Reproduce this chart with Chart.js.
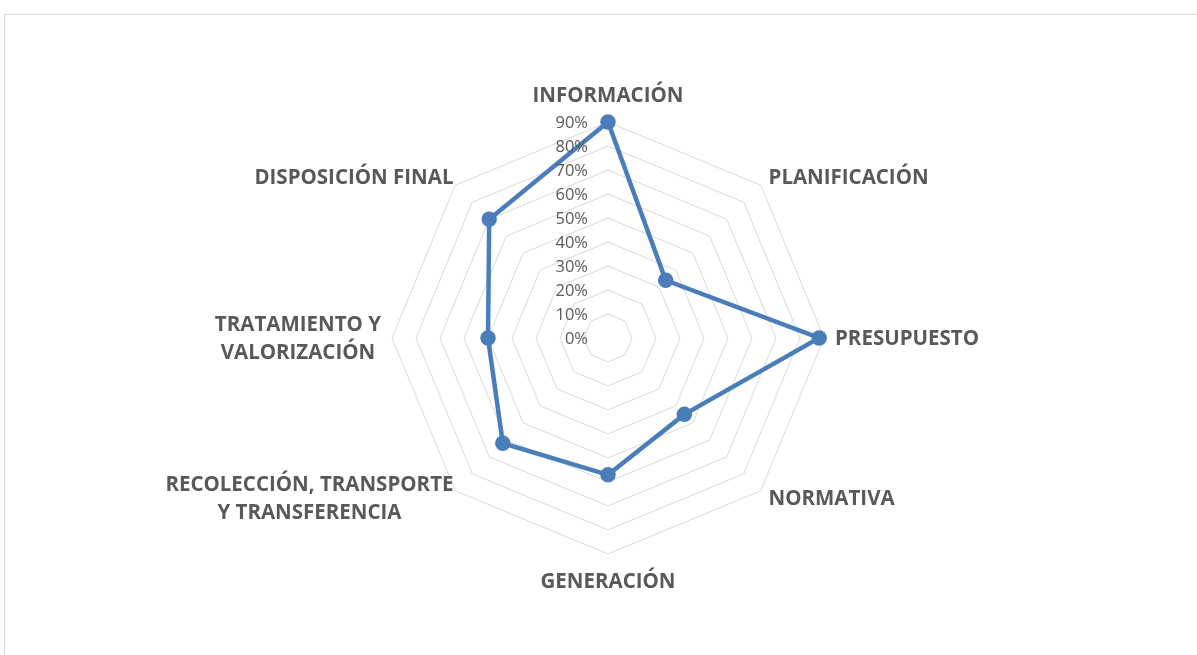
<!DOCTYPE html>
<html>
<head>
<meta charset="utf-8">
<script src="https://cdn.jsdelivr.net/npm/chart.js@4.4.1/dist/chart.umd.min.js"></script>
<style>
    html, body { margin: 0; padding: 0; background: #fff; overflow: hidden; }
    #frame {
        position: absolute; left: 4px; top: 14px;
        width: 1250px; height: 700px;
        border: 1px solid #d9d9d9;
    }
    #radar { position: absolute; left: 0; top: 0; }
</style>
</head>
<body>
<div id="frame"></div>
<canvas id="radar" width="1197" height="655"></canvas>
<script>
// categories (multi-line labels are arrays)
const categories = [
    'INFORMACIÓN',
    'PLANIFICACIÓN',
    'PRESUPUESTO',
    'NORMATIVA',
    'GENERACIÓN',
    ['RECOLECCIÓN, TRANSPORTE', 'Y TRANSFERENCIA'],
    ['TRATAMIENTO Y', 'VALORIZACIÓN'],
    'DISPOSICIÓN FINAL'
];
const values = [0.90, 0.34, 0.88, 0.45, 0.57, 0.62, 0.50, 0.70];
const tickValues = [0, 0.1, 0.2, 0.3, 0.4, 0.5, 0.6, 0.7, 0.8, 0.9];

const LINE_BLUE = '#4a7ebb';
const TEXT_GREY = '#595959';

// tick labels sit left of the vertical axis, right aligned (Excel style)
const tickLabelsPlugin = {
    id: 'tickLabels',
    afterDraw(chart) {
        const scale = chart.scales.r;
        const ctx = chart.ctx;
        ctx.save();
        ctx.font = '16.5px "Open Sans"';
        ctx.fillStyle = TEXT_GREY;
        ctx.textAlign = 'right';
        ctx.textBaseline = 'middle';
        tickValues.forEach(v => {
            const y = scale.yCenter - scale.getDistanceFromCenterForValue(v);
            ctx.fillText(Math.round(v * 100) + '%', scale.xCenter - 20, y + 1);
        });
        ctx.restore();
    }
};

// category labels, positioned from the scale's own point positions
const categoryLabelsPlugin = {
    id: 'categoryLabels',
    afterDraw(chart) {
        const scale = chart.scales.r;
        const ctx = chart.ctx;
        const lineH = 28;
        ctx.save();
        ctx.font = 'bold 20.5px "Open Sans"';
        ctx.fillStyle = TEXT_GREY;
        ctx.textBaseline = 'middle';
        categories.forEach((lab, i) => {
            const lines = Array.isArray(lab) ? lab : [lab];
            const pos = scale.getPointPosition(i, scale.drawingArea + 11);
            const dx = pos.x - scale.xCenter;
            const dy = pos.y - scale.yCenter;
            let y = pos.y + 1;
            if (Math.abs(dx) < 1) {
                y += dy < 0 ? -16 : 16;
            }
            const maxW = Math.max(...lines.map(l => ctx.measureText(l).width));
            let cx;
            if (dx > 1) cx = pos.x + maxW / 2;
            else if (dx < -1) cx = pos.x - maxW / 2 + (Math.abs(dy) > 1 ? 6 : 0);
            else cx = pos.x;
            ctx.textAlign = 'center';
            const top = y - (lines.length - 1) * lineH / 2;
            lines.forEach((l, k) => ctx.fillText(l, cx, top + k * lineH));
        });
        ctx.restore();
    }
};

new Chart(document.getElementById('radar'), {
    type: 'radar',
    data: {
        labels: categories,
        datasets: [{
            data: values,
            borderColor: LINE_BLUE,
            backgroundColor: LINE_BLUE,
            borderWidth: 4.5,
            pointRadius: 5.5,
            pointHoverRadius: 5.5,
            pointBackgroundColor: LINE_BLUE,
            pointBorderColor: LINE_BLUE,
            fill: false,
            tension: 0
        }]
    },
    options: {
        responsive: false,
        animation: false,
        devicePixelRatio: 1,
        layout: {
            padding: { left: 392, right: 373, top: 122, bottom: 101 }
        },
        plugins: {
            legend: { display: false },
            tooltip: { enabled: false }
        },
        scales: {
            r: {
                min: 0,
                max: 0.9,
                ticks: { display: false, stepSize: 0.1 },
                grid: { circular: false, color: '#d9d9d9', lineWidth: 1 },
                angleLines: { display: false },
                pointLabels: { display: false }
            }
        }
    },
    plugins: [tickLabelsPlugin, categoryLabelsPlugin]
});
</script>
</body>
</html>
